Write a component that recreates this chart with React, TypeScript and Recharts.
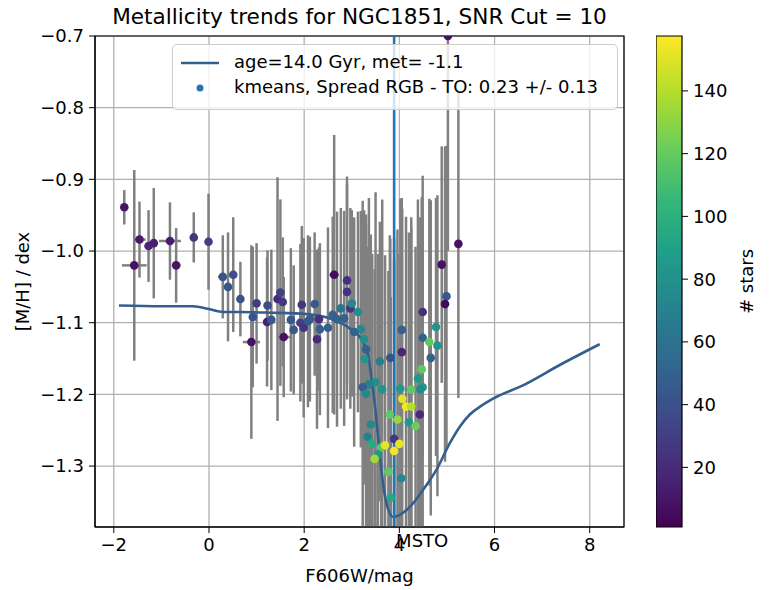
import React from "react";
import {
  ComposedChart,
  Scatter,
  Line,
  XAxis,
  YAxis,
  CartesianGrid,
  ErrorBar,
  ReferenceLine,
  ReferenceArea,
  Legend,
} from "recharts";

const FONT = "DejaVu Sans";

// kmeans groups: F606W magnitude, [M/H], errors and number of stars per group
const magX = [
  -1.78, -1.57, -1.46, -1.27, -1.16, -0.82, -0.69, -0.32, -0.01, 0.29,
  0.4, 0.51, 0.66, 0.92, 0.89, 1.0, 1.23, 1.22, 1.31, 1.44,
  1.5, 1.55, 1.57, 1.72, 1.78, 1.92, 1.95, 1.99, 2.08, 2.12,
  2.22, 2.31, 2.27, 2.33, 2.5, 2.6, 2.63, 2.69, 2.77, 2.84,
  2.9, 2.9, 2.97, 3.0, 3.13, 3.19, 3.05, 3.26, 3.3, 3.27,
  3.59, 3.81, 4.05, 4.05, 4.49, 4.49, 4.63, 4.77, 4.8, 4.66,
  4.89, 4.99, 4.96, 4.47, 4.39, 4.49, 4.44, 4.25, 4.02, 3.64,
  3.5, 3.36, 3.23, 3.3, 4.06, 4.14, 4.25, 3.8, 3.96, 4.43,
  4.2, 4.34, 3.4, 3.33, 3.43, 3.62, 3.7, 3.89, 4.0, 3.89,
  3.55, 3.48, 3.77, 4.04, 3.82, 5.02, 5.24,
];
const metY = [
  -0.939, -1.02, -0.984, -0.993, -0.989, -0.986, -1.02, -0.981, -0.987, -1.036,
  -1.05, -1.033, -1.067, -1.092, -1.127, -1.073, -1.076, -1.099, -1.096, -1.067,
  -1.058, -1.071, -1.12, -1.096, -1.11, -1.1, -1.075, -1.107, -1.098, -1.095,
  -1.074, -1.095, -1.123, -1.109, -1.107, -1.089, -1.033, -1.095, -1.08, -1.094,
  -1.041, -1.057, -1.08, -1.073, -1.085, -1.109, -1.113, -1.123, -1.137, -1.151,
  -1.154, -1.149, -1.141, -1.11, -1.085, -1.121, -1.127, -1.106, -1.132, -1.149,
  -1.019, -1.063, -1.074, -1.165, -1.178, -1.19, -1.193, -1.193, -1.192, -1.193,
  -1.183, -1.186, -1.19, -1.199, -1.206, -1.217, -1.217, -1.228, -1.235, -1.228,
  -1.239, -1.244, -1.242, -1.259, -1.269, -1.274, -1.271, -1.262, -1.269, -1.279,
  -1.284, -1.29, -1.308, -1.317, -1.344, -0.7, -0.99,
];
const metErr = [
  0.024, 0.133, 0.053, 0.05, 0.077, 0.054, 0.052, 0.035, 0.067, 0.058,
  0.076, 0.08, 0.052, 0.098, 0.135, 0.084, 0.077, 0.09, 0.098, 0.17,
  0.13, 0.09, 0.084, 0.1, 0.09, 0.11, 0.11, 0.125, 0.12, 0.115,
  0.1, 0.1, 0.125, 0.12, 0.14, 0.137, 0.195, 0.15, 0.14, 0.15,
  0.145, 0.15, 0.14, 0.13, 0.14, 0.165, 0.16, 0.18, 0.175, 0.175,
  0.195, 0.166, 0.215, 0.18, 0.19, 0.17, 0.2, 0.18, 0.21, 0.22,
  0.165, 0.21, 0.22, 0.24, 0.25, 0.245, 0.24, 0.24, 0.265, 0.265,
  0.265, 0.26, 0.26, 0.25, 0.265, 0.265, 0.25, 0.25, 0.265, 0.24,
  0.265, 0.25, 0.265, 0.265, 0.265, 0.25, 0.265, 0.28, 0.265, 0.265,
  0.28, 0.265, 0.28, 0.265, 0.28, 0.3, 0.215,
];
const magErr = [
  0, 0.26, 0.13, 0.08, 0, 0.23, 0.09, 0, 0, 0.1,
  0, 0.08, 0, 0, 0.18, 0, 0, 0, 0, 0,
  0, 0, 0.13, 0, 0, 0, 0, 0, 0, 0,
  0, 0, 0, 0, 0, 0, 0.1, 0, 0, 0,
  0, 0, 0, 0, 0, 0, 0, 0, 0, 0,
  0, 0, 0, 0, 0, 0, 0, 0, 0, 0,
  0, 0, 0, 0, 0, 0, 0, 0, 0, 0,
  0, 0, 0, 0, 0, 0, 0, 0, 0, 0,
  0, 0, 0, 0, 0, 0, 0, 0, 0, 0,
  0, 0, 0, 0, 0, 0, 0,
];
const nStars = [
  10, 8, 12, 18, 15, 14, 10, 25, 30, 40,
  42, 38, 40, 42, 8, 30, 38, 15, 45, 20,
  32, 28, 8, 45, 45, 30, 25, 25, 45, 45,
  45, 22, 20, 48, 48, 50, 5, 50, 62, 48,
  22, 25, 25, 75, 78, 75, 50, 78, 50, 82,
  68, 42, 18, 48, 22, 50, 118, 82, 82, 50,
  8, 45, 5, 118, 85, 85, 75, 118, 85, 82,
  78, 70, 48, 75, 152, 155, 140, 118, 132, 20,
  85, 122, 75, 70, 95, 118, 152, 25, 152, 155,
  82, 135, 118, 75, 95, 8, 8,
];

// isochrone, age=14.0 Gyr, met=-1.1
const isoMag = [
  -1.89, -1.0, -0.34, 0.0, 0.29, 0.65, 1.3, 2.05, 2.54, 2.96,
  3.21, 3.35, 3.42, 3.49, 3.56, 3.63, 3.73, 3.87, 4.01, 4.22,
  4.5, 4.78, 5.06, 5.27, 5.48, 5.72, 5.97, 6.64, 7.37, 8.21,
];
const isoMet = [
  -1.076, -1.077, -1.077, -1.081, -1.085, -1.085, -1.086, -1.088, -1.094, -1.108,
  -1.124, -1.147, -1.18, -1.217, -1.264, -1.31, -1.352, -1.371, -1.368, -1.357,
  -1.333, -1.305, -1.268, -1.245, -1.228, -1.216, -1.206, -1.186, -1.159, -1.13,
];

const MSTO = 3.89;
const xTicks = [-2, 0, 2, 4, 6, 8];
const yTicks = [-1.3, -1.2, -1.1, -1.0, -0.9, -0.8, -0.7];
const cbTicks = [20, 40, 60, 80, 100, 120, 140];

const X_DOMAIN: [number, number] = [-2.395, 8.72];
const Y_DOMAIN: [number, number] = [-1.385, -0.7];
const N_DOMAIN: [number, number] = [1, 157.5];

const points = magX.map((x, i) => ({
  x,
  y: metY[i],
  ye: metErr[i],
  xe: magErr[i],
  n: nStars[i],
}));
const isochrone = isoMag.map((x, i) => ({ x, y: isoMet[i] }));

const VIRIDIS = [
  "#440154", "#482878", "#3e4989", "#31688e", "#26828e",
  "#1f9e89", "#35b779", "#6ece58", "#b5de2b", "#fde725",
];

function hexToRgb(h: string) {
  return [1, 3, 5].map((k) => parseInt(h.slice(k, k + 2), 16));
}

function viridis(n: number) {
  let t = (n - N_DOMAIN[0]) / (N_DOMAIN[1] - N_DOMAIN[0]);
  t = Math.max(0, Math.min(1, t));
  const p = t * (VIRIDIS.length - 1);
  const i = Math.min(Math.floor(p), VIRIDIS.length - 2);
  const f = p - i;
  const a = hexToRgb(VIRIDIS[i]);
  const b = hexToRgb(VIRIDIS[i + 1]);
  const c = a.map((v, k) => Math.round(v + (b[k] - v) * f));
  return `rgb(${c[0]},${c[1]},${c[2]})`;
}

const minus = (s: string) => s.replace("-", "\u2212");
const tickStyle = { fill: "#000", fontSize: 18, fontFamily: FONT };

// plot box of the main chart (margins + axis sizes below)
const PLOT = { left: 95, top: 36, width: 529, height: 491 };

function LegendBox() {
  return (
    <div
      style={{
        boxSizing: "border-box",
        width: 446,
        height: 66,
        border: "1px solid #cccccc",
        borderRadius: 5,
        background: "rgba(255,255,255,0.8)",
        position: "relative",
        fontFamily: FONT,
        fontSize: 18,
        color: "#000",
      }}
    >
      <svg width={60} height={66} style={{ position: "absolute", left: 0, top: 0 }}>
        <line x1={8} x2={46} y1={18} y2={18} stroke="#325f8e" strokeWidth={2.6} />
        <circle cx={27} cy={43} r={3.5} fill="#1f77b4" />
      </svg>
      <div style={{ position: "absolute", left: 61, top: 6, lineHeight: "22px", whiteSpace: "nowrap" }}>
        age=14.0 Gyr, met= -1.1
      </div>
      <div style={{ position: "absolute", left: 61, top: 31, lineHeight: "22px", whiteSpace: "nowrap" }}>
        kmeans, Spread RGB - TO: 0.23 +/- 0.13
      </div>
    </div>
  );
}

export default function App() {
  return (
    <div
      style={{
        position: "absolute",
        left: 0,
        top: 0,
        width: 770,
        height: 590,
        background: "#fff",
        fontFamily: FONT,
      }}
    >
      <div
        style={{
          position: "absolute",
          left: 95,
          top: 4,
          width: 529,
          textAlign: "center",
          fontSize: 21.6,
          lineHeight: "26px",
          color: "#000",
          whiteSpace: "nowrap",
        }}
      >
        Metallicity trends for NGC1851, SNR Cut = 10
      </div>

      <div style={{ position: "absolute", left: 0, top: 0 }}>
        <ComposedChart width={770} height={590} margin={{ top: 36, right: 146, bottom: 0, left: 0 }}>
          <defs>
            <clipPath id="plotClip">
              <rect x={PLOT.left} y={PLOT.top} width={PLOT.width} height={PLOT.height} />
            </clipPath>
          </defs>
          <CartesianGrid stroke="#b0b0b0" strokeWidth={1.3} />
          <XAxis
            type="number"
            dataKey="x"
            domain={X_DOMAIN}
            ticks={xTicks}
            allowDataOverflow
            height={63}
            stroke="#000"
            tickSize={6}
            tickMargin={5}
            tick={tickStyle}
            tickFormatter={(v: number) => minus(String(v))}
            label={(p: any) => (
              <text x={359.5} y={582} textAnchor="middle" fontSize={18} fontFamily={FONT} fill="#000">
                F606W/mag
              </text>
            )}
          />
          <YAxis
            type="number"
            domain={Y_DOMAIN}
            ticks={yTicks}
            allowDataOverflow
            width={95}
            stroke="#000"
            tickSize={6}
            tickMargin={5}
            tick={tickStyle}
            tickFormatter={(v: number) => minus(v.toFixed(1))}
            label={(p: any) => (
              <text
                x={22}
                y={281.5}
                transform="rotate(-90, 22, 281.5)"
                textAnchor="middle"
                dominantBaseline="central"
                fontSize={18}
                fontFamily={FONT}
                fill="#000"
              >
                [M/H] / dex
              </text>
            )}
          />
          <Scatter
            data={points}
            dataKey="y"
            isAnimationActive={false}
            legendType="none"
            shape={() => <g />}
          >
            <ErrorBar
              dataKey="ye"
              direction="y"
              width={0}
              stroke="#808080"
              strokeWidth={2.5}
              clipPath="url(#plotClip)"
              isAnimationActive={false}
            />
            <ErrorBar
              dataKey="xe"
              direction="x"
              width={0}
              stroke="#808080"
              strokeWidth={2.5}
              clipPath="url(#plotClip)"
              isAnimationActive={false}
            />
          </Scatter>
          <Line
            data={isochrone}
            dataKey="y"
            type="monotone"
            stroke="#325f8e"
            strokeWidth={2.6}
            dot={false}
            isAnimationActive={false}
          />
          <ReferenceLine
            x={MSTO}
            stroke="#1f77b4"
            strokeWidth={2.6}
            label={(p: any) => (
              <text x={p.viewBox.x + 2} y={547} fontSize={18} fontFamily={FONT} fill="#000">
                MSTO
              </text>
            )}
          />
          <Scatter
            data={points}
            dataKey="y"
            isAnimationActive={false}
            shape={(p: any) => (
              <circle cx={p.cx} cy={p.cy} r={4.3} fill={viridis(p.payload.n)} clipPath="url(#plotClip)" />
            )}
          />
          <ReferenceArea
            x1={X_DOMAIN[0]}
            x2={X_DOMAIN[1]}
            y1={Y_DOMAIN[0]}
            y2={Y_DOMAIN[1]}
            fill="none"
            stroke="#000"
            strokeWidth={1.2}
          />
          <Legend
            layout="vertical"
            align="center"
            verticalAlign="middle"
            wrapperStyle={{ position: "absolute", left: 172, top: 44, width: 446, height: 66 }}
            content={() => <LegendBox />}
          />
        </ComposedChart>
      </div>

      <div style={{ position: "absolute", left: 656, top: 0 }}>
        <ComposedChart
          width={114}
          height={590}
          margin={{ top: 36, right: 0, bottom: 63, left: 0 }}
          data={[{ x: 0, n: N_DOMAIN[0] }, { x: 1, n: N_DOMAIN[1] }]}
        >
          <defs>
            <linearGradient id="cbGrad" x1="0" y1="1" x2="0" y2="0">
              {VIRIDIS.map((c, i) => (
                <stop key={c} offset={i / (VIRIDIS.length - 1)} stopColor={c} />
              ))}
            </linearGradient>
          </defs>
          <XAxis type="number" dataKey="x" domain={[0, 1]} hide />
          <YAxis
            type="number"
            dataKey="n"
            orientation="right"
            domain={N_DOMAIN}
            ticks={cbTicks}
            width={88}
            axisLine={false}
            stroke="#000"
            tickSize={6}
            tickMargin={5}
            tick={tickStyle}
            label={(p: any) => (
              <text
                x={90}
                y={281.5}
                transform="rotate(-90, 90, 281.5)"
                textAnchor="middle"
                dominantBaseline="central"
                fontSize={18}
                fontFamily={FONT}
                fill="#000"
              >
                # stars
              </text>
            )}
          />
          <ReferenceArea
            x1={0}
            x2={1}
            y1={N_DOMAIN[0]}
            y2={N_DOMAIN[1]}
            fill="url(#cbGrad)"
            fillOpacity={1}
            stroke="#000"
            strokeWidth={1.2}
          />
        </ComposedChart>
      </div>
    </div>
  );
}
